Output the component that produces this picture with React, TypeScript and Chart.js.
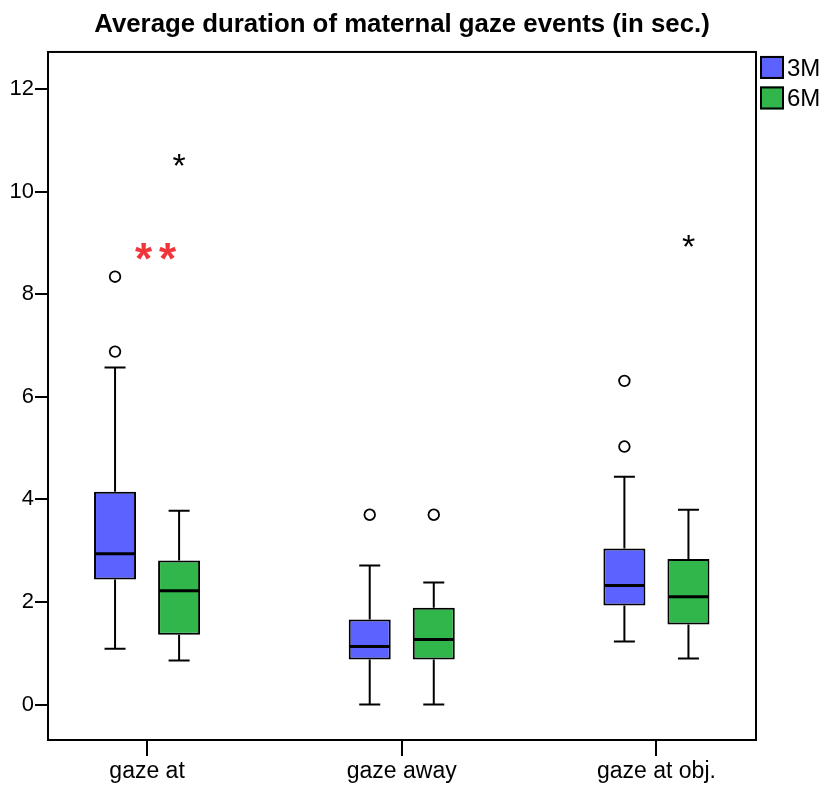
import React, { useEffect, useRef } from 'react';
import { Chart, registerables } from 'chart.js';

Chart.register(...registerables);

const TITLE = 'Average duration of maternal gaze events (in sec.)';
const categories = ['gaze at', 'gaze away', 'gaze at obj.'];
const groupLabels = ['3M', '6M'];
const groupColors = ['#5b62ff', '#30b64b'];

// 3M
const whiskerLow3M = [1.09, 0.0, 1.23];
const q1_3M = [2.44, 0.88, 1.93];
const median3M = [2.94, 1.13, 2.32];
const q3_3M = [4.15, 1.66, 3.04];
const whiskerHigh3M = [6.57, 2.71, 4.44];
const outliers3M: number[][] = [[6.88, 8.34], [3.7], [5.03, 6.31]];
const extremes3M: number[][] = [[], [], []];

// 6M
const whiskerLow6M = [0.86, 0.0, 0.9];
const q1_6M = [1.36, 0.88, 1.56];
const median6M = [2.22, 1.27, 2.1];
const q3_6M = [2.81, 1.89, 2.84];
const whiskerHigh6M = [3.78, 2.38, 3.8];
const outliers6M: number[][] = [[], [3.7], []];
const extremes6M: number[][] = [[10.62], [], [9.04]];

// significance marker
const sigLabel = '**';
const sigX = 1.035;
const sigValue = 8.83;

const yTicks = [0, 2, 4, 6, 8, 10, 12];
const yMin = -0.69;
const yMax = 12.72;
const xMin = 0.611;
const xMax = 3.391;

const FONT = 'Arial, "Liberation Sans", Helvetica, sans-serif';

const stats = [
  { lo: whiskerLow3M, q1: q1_3M, med: median3M, q3: q3_3M, hi: whiskerHigh3M, out: outliers3M, ext: extremes3M },
  { lo: whiskerLow6M, q1: q1_6M, med: median6M, q3: q3_6M, hi: whiskerHigh6M, out: outliers6M, ext: extremes6M },
];

function drawCenteredText(ctx: CanvasRenderingContext2D, text: string, x: number, y: number) {
  ctx.textAlign = 'left';
  ctx.textBaseline = 'alphabetic';
  const m = ctx.measureText(text);
  const asc = m.actualBoundingBoxAscent;
  const desc = m.actualBoundingBoxDescent;
  const left = m.actualBoundingBoxLeft;
  const right = m.actualBoundingBoxRight;
  ctx.fillText(text, x - (right - left) / 2, y + (asc - desc) / 2);
}

const boxPlugin = {
  id: 'boxExtras',
  beforeDatasetsDraw(chart: any) {
    const ctx: CanvasRenderingContext2D = chart.ctx;
    const ys = chart.scales.y;
    stats.forEach((s, di) => {
      const meta = chart.getDatasetMeta(di);
      meta.data.forEach((el: any, i: number) => {
        const { x, width } = el.getProps(['x', 'width'], true);
        const half = width / 4;
        const yq1 = ys.getPixelForValue(s.q1[i]);
        const yq3 = ys.getPixelForValue(s.q3[i]);
        const ylo = ys.getPixelForValue(s.lo[i]);
        const yhi = ys.getPixelForValue(s.hi[i]);
        ctx.save();
        ctx.strokeStyle = '#000';
        ctx.lineWidth = 2;
        ctx.beginPath();
        ctx.moveTo(x, yq3);
        ctx.lineTo(x, yhi);
        ctx.moveTo(x, yq1);
        ctx.lineTo(x, ylo);
        ctx.moveTo(x - half, yhi);
        ctx.lineTo(x + half, yhi);
        ctx.moveTo(x - half, ylo);
        ctx.lineTo(x + half, ylo);
        ctx.stroke();
        ctx.restore();
      });
    });
  },
  afterDatasetsDraw(chart: any) {
    const ctx: CanvasRenderingContext2D = chart.ctx;
    const ys = chart.scales.y;
    const xs = chart.scales.x;
    stats.forEach((s, di) => {
      const meta = chart.getDatasetMeta(di);
      meta.data.forEach((el: any, i: number) => {
        const { x, width } = el.getProps(['x', 'width'], true);
        const ym = ys.getPixelForValue(s.med[i]);
        ctx.save();
        ctx.strokeStyle = '#000';
        ctx.lineWidth = 3;
        ctx.beginPath();
        ctx.moveTo(x - width / 2 + 1, ym);
        ctx.lineTo(x + width / 2 - 1, ym);
        ctx.stroke();
        ctx.lineWidth = 1.8;
        ctx.fillStyle = '#fff';
        s.out[i].forEach((v) => {
          const py = ys.getPixelForValue(v);
          ctx.beginPath();
          ctx.arc(x, py, 5.3, 0, Math.PI * 2);
          ctx.fill();
          ctx.stroke();
        });
        ctx.fillStyle = '#000';
        ctx.font = `34px ${FONT}`;
        s.ext[i].forEach((v) => {
          const py = ys.getPixelForValue(v);
          drawCenteredText(ctx, '*', x, py);
        });
        ctx.restore();
      });
    });
    // significance marker
    ctx.save();
    ctx.fillStyle = '#f0353b';
    ctx.font = `bold 44px ${FONT}`;
    const cx = xs.getPixelForValue(sigX);
    const cy = ys.getPixelForValue(sigValue);
    const chars = sigLabel.split('');
    const step = 24;
    chars.forEach((c, k) => {
      drawCenteredText(ctx, c, cx + (k - (chars.length - 1) / 2) * step, cy);
    });
    ctx.restore();
  },
  afterDraw(chart: any) {
    const ctx: CanvasRenderingContext2D = chart.ctx;
    const a = chart.chartArea;
    ctx.save();
    ctx.strokeStyle = '#000';
    ctx.lineWidth = 2;
    ctx.strokeRect(a.left, a.top, a.right - a.left, a.bottom - a.top);
    // legend
    const bx = a.right + 4;
    let by = a.top + 4;
    chart.data.datasets.forEach((ds: any) => {
      ctx.fillStyle = ds.backgroundColor;
      ctx.fillRect(bx, by, 24, 23);
      ctx.lineWidth = 2;
      ctx.strokeStyle = '#000';
      ctx.strokeRect(bx + 1, by + 1, 22, 21);
      ctx.fillStyle = '#000';
      ctx.font = `24px ${FONT}`;
      ctx.textAlign = 'left';
      ctx.textBaseline = 'middle';
      ctx.fillText(ds.label, bx + 27, by + 13);
      by += 30.5;
    });
    ctx.restore();
  },
};

export default function App() {
  const ref = useRef<HTMLCanvasElement | null>(null);
  useEffect(() => {
    if (!ref.current) return;
    const datasets = groupLabels.map((label, gi) => ({
      label,
      data: categories.map((_, i) => ({ x: i + 1, y: [stats[gi].q1[i], stats[gi].q3[i]] })),
      backgroundColor: groupColors[gi],
      borderColor: '#000',
      borderWidth: 2,
      borderSkipped: false,
      categoryPercentage: 0.503,
      barPercentage: 0.656,
    }));
    const chart = new Chart(ref.current, {
      type: 'bar',
      data: { datasets: datasets as any },
      options: {
        responsive: false,
        animation: false,
        layout: { padding: { left: 0, right: 70, top: 0, bottom: 0 } },
        plugins: {
          legend: { display: false },
          tooltip: { enabled: false },
          title: {
            display: true,
            text: TITLE,
            fullSize: false,
            color: '#000',
            font: { family: FONT, size: 25.8, weight: 'bold', lineHeight: 1.2 },
            padding: { top: 9, bottom: 12 },
          },
        },
        scales: {
          x: {
            type: 'linear',
            offset: false,
            min: xMin,
            max: xMax,
            afterBuildTicks: (scale: any) => {
              scale.ticks = categories.map((_, i) => ({ value: i + 1 }));
            },
            afterFit: (scale: any) => {
              scale.height = 45;
            },
            ticks: {
              color: '#000',
              font: { family: FONT, size: 23 },
              padding: 2,
              maxRotation: 0,
              autoSkip: false,
              callback: (v: any) => categories[Math.round(Number(v)) - 1] ?? '',
            },
            grid: { display: true, offset: false, drawOnChartArea: false, drawTicks: true, tickLength: 16, color: '#000', lineWidth: 2 },
            border: { display: false },
          },
          y: {
            type: 'linear',
            min: yMin,
            max: yMax,
            afterBuildTicks: (scale: any) => {
              scale.ticks = yTicks.map((v) => ({ value: v }));
            },
            afterFit: (scale: any) => {
              scale.width = 48;
            },
            ticks: {
              color: '#000',
              font: { family: FONT, size: 22 },
              padding: 1,
              callback: (v: any) => String(v),
            },
            grid: { display: true, drawOnChartArea: false, drawTicks: true, tickLength: 13, color: '#000', lineWidth: 2 },
            border: { display: false },
          },
        },
      } as any,
      plugins: [boxPlugin],
    });
    return () => chart.destroy();
  }, []);
  return (
    <div style={{ position: 'fixed', left: 0, top: 0, width: 826, height: 785, background: '#fff' }}>
      <canvas ref={ref} width={826} height={785} style={{ display: 'block', width: 826, height: 785 }} />
    </div>
  );
}
